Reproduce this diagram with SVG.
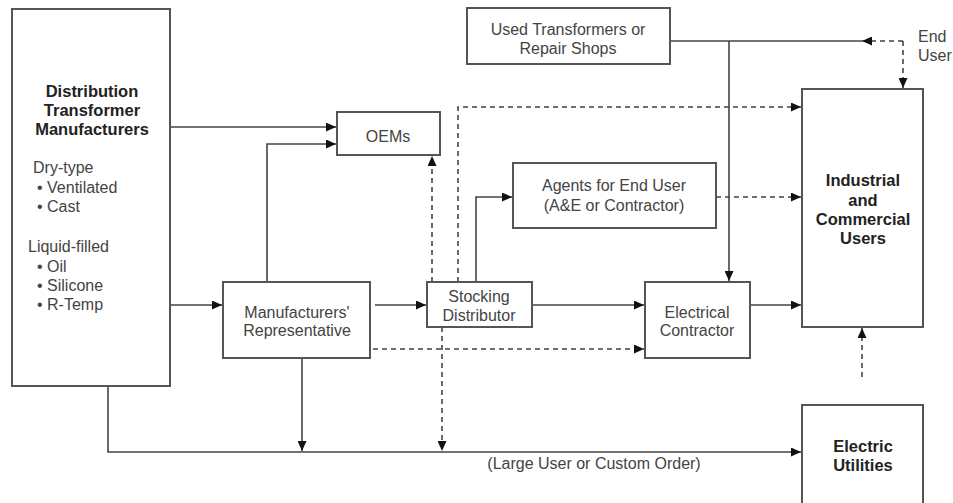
<svg xmlns="http://www.w3.org/2000/svg" width="953" height="503" viewBox="0 0 953 503">
<defs>
<style>
.box{fill:#fff;stroke:#555;stroke-width:2}
.t{font-family:"Liberation Sans",Arial,sans-serif;font-size:16px;fill:#444}
.b{font-family:"Liberation Sans",Arial,sans-serif;font-size:16.5px;font-weight:bold;fill:#222}
.c{text-anchor:middle}
.ln{fill:none;stroke:#444;stroke-width:1.6}
.d{stroke-dasharray:5,4}
</style>
<marker id="ah" markerUnits="userSpaceOnUse" markerWidth="11" markerHeight="9" refX="10" refY="4.5" orient="auto">
<path d="M0,0 L10,4.5 L0,9 z" fill="#111"/>
</marker>
</defs>
<rect width="953" height="503" fill="#fff"/>

<g id="connectors">
<path class="ln" d="M170,127 H336" marker-end="url(#ah)"/>
<path class="ln" d="M267,282 V144 H336" marker-end="url(#ah)"/>
<path class="ln" d="M170,305 H222" marker-end="url(#ah)"/>
<path class="ln" d="M108,386 V452 H801" marker-end="url(#ah)"/>
<path class="ln" d="M302,358 V451" marker-end="url(#ah)"/>
<path class="ln" d="M375,305 H426" marker-end="url(#ah)"/>
<path class="ln" d="M532,305 H644" marker-end="url(#ah)"/>
<path class="ln d" d="M373,349 H644" marker-end="url(#ah)"/>
<path class="ln d" d="M442,327 V451" marker-end="url(#ah)"/>
<path class="ln d" d="M432,282 V156" marker-end="url(#ah)"/>
<path class="ln d" d="M458,282 V107 H801" marker-end="url(#ah)"/>
<path class="ln" d="M476,282 V197 H512" marker-end="url(#ah)"/>
<path class="ln d" d="M716,197 H801" marker-end="url(#ah)"/>
<path class="ln" d="M750,305 H801" marker-end="url(#ah)"/>
<path class="ln" d="M670,41 H862"/>
<path class="ln" d="M729,41 V281" marker-end="url(#ah)"/>
<path class="ln d" d="M903,41 H862" marker-end="url(#ah)"/>
<path class="ln d" d="M903,41 V88" marker-end="url(#ah)"/>
<path class="ln d" d="M862,377 V328" marker-end="url(#ah)"/>
</g>

<g id="manufacturers">
<rect class="box" x="12" y="9" width="158" height="377"/>
<text class="b c" x="92" y="97">Distribution</text>
<text class="b c" x="92" y="116">Transformer</text>
<text class="b c" x="92" y="135">Manufacturers</text>
<text class="t" x="33" y="173">Dry-type</text>
<text class="t" x="37" y="193">• Ventilated</text>
<text class="t" x="37" y="212">• Cast</text>
<text class="t" x="28" y="252">Liquid-filled</text>
<text class="t" x="37" y="272">• Oil</text>
<text class="t" x="37" y="291">• Silicone</text>
<text class="t" x="37" y="310">• R-Temp</text>
</g>

<g id="oems">
<rect class="box" x="337" y="112" width="103" height="43"/>
<text class="t c" x="388" y="142">OEMs</text>
</g>

<g id="used">
<rect class="box" x="467" y="8" width="203" height="56"/>
<text class="t c" x="568" y="35">Used Transformers or</text>
<text class="t c" x="568" y="54">Repair Shops</text>
</g>

<g id="agents">
<rect class="box" x="513" y="163" width="203" height="65"/>
<text class="t c" x="614" y="191">Agents for End User</text>
<text class="t c" x="614" y="211">(A&amp;E or Contractor)</text>
</g>

<g id="industrial">
<rect class="box" x="802" y="89" width="121" height="238"/>
<text class="b c" x="863" y="186">Industrial</text>
<text class="b c" x="863" y="206">and</text>
<text class="b c" x="863" y="225">Commercial</text>
<text class="b c" x="863" y="244">Users</text>
</g>

<g id="enduser">
<text class="t" x="918" y="42">End</text>
<text class="t" x="918" y="61">User</text>
</g>

<g id="rep">
<rect class="box" x="223" y="282" width="147" height="76"/>
<text class="t c" x="297" y="318">Manufacturers'</text>
<text class="t c" x="297" y="336">Representative</text>
</g>

<g id="stocking">
<rect class="box" x="427" y="282" width="105" height="45"/>
<text class="t c" x="479" y="302">Stocking</text>
<text class="t c" x="479" y="321">Distributor</text>
</g>

<g id="contractor">
<rect class="box" x="645" y="282" width="105" height="76"/>
<text class="t c" x="697" y="318">Electrical</text>
<text class="t c" x="697" y="336">Contractor</text>
</g>

<g id="utilities">
<path class="box" d="M802,510 V405 H923 V510"/>
<text class="b c" x="863" y="452">Electric</text>
<text class="b c" x="863" y="471">Utilities</text>
</g>

<g id="label">
<text class="t c" x="594" y="469">(Large User or Custom Order)</text>
</g>
</svg>
